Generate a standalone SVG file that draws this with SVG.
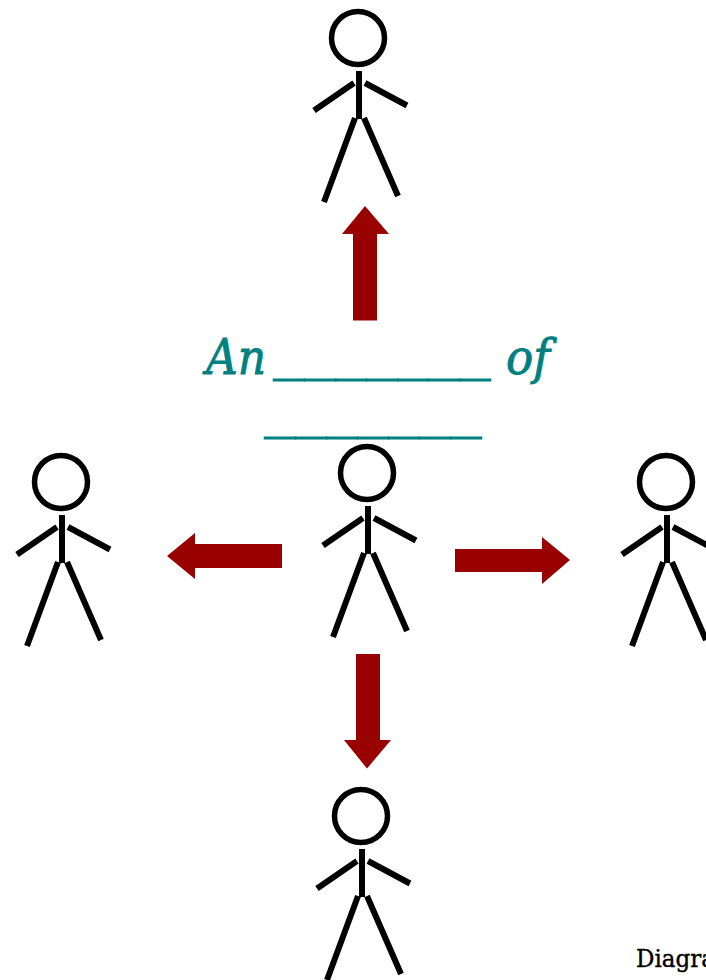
<svg xmlns="http://www.w3.org/2000/svg" width="706" height="980" viewBox="0 0 706 980">
<style>
.head{fill:none;stroke:#000;stroke-width:5.500}
.limb{fill:none;stroke:#000;stroke-width:6}
.arrow{fill:#990000}
.title{font-family:"DejaVu Serif",serif;font-style:italic;font-size:48px;fill:#008080;stroke:#008080;stroke-width:.9}
.rule{font-family:"DejaVu Serif",serif;font-style:italic;font-size:48px;fill:#008080;stroke:#008080;stroke-width:1.200}
.note{font-family:"DejaVu Serif",serif;font-size:24px;fill:#000;stroke:#000;stroke-width:.4}
</style>
<defs>
<g id="person">
<circle class="head" cx="358" cy="38" r="26.500"/>
<path class="limb" d="M359 71V119M354 83L314 110.500M365 83L407 105.500M355 118L324 202M364 118L398 196"/>
</g>
</defs>
<rect width="706" height="980" fill="#fff"/>
<g id="person-top"><use href="#person"/></g>
<g id="person-left"><use href="#person" x="-297" y="444"/></g>
<g id="person-center"><use href="#person" x="9" y="435"/></g>
<g id="person-right"><use href="#person" x="308" y="444"/></g>
<g id="person-bottom"><use href="#person" x="3" y="778"/></g>
<g id="connectors">
<path class="arrow" d="M353 320.500V234H342L365 206L389 234H377V320.500Z"/>
<path class="arrow" d="M282 544H195V533L167 556L195 579V568H282Z"/>
<path class="arrow" d="M455 549H542V537L570 560L542 584V572H455Z"/>
<path class="arrow" d="M356 654V740H344L367 768.500L391 740H380V654Z"/>
</g>
<g id="title">
<text class="title" x="206" y="374" textLength="60" lengthAdjust="spacingAndGlyphs">An</text>
<text class="rule" x="273.500" y="369.500" textLength="217" lengthAdjust="spacingAndGlyphs">_______</text>
<text class="title" x="506" y="374" textLength="44" lengthAdjust="spacingAndGlyphs">of</text>
<text class="rule" x="264.500" y="427.500" textLength="217" lengthAdjust="spacingAndGlyphs">_______</text>
</g>
<g id="caption"><text class="note" x="636" y="967" textLength="79" lengthAdjust="spacingAndGlyphs">Diagra</text></g>
</svg>
